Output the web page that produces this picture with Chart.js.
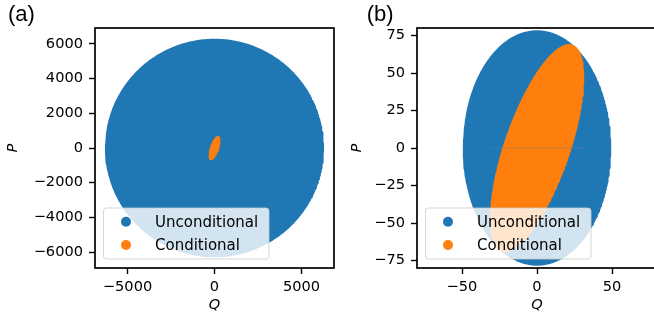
<!DOCTYPE html>
<html><head><meta charset="utf-8">
<script src="https://cdn.jsdelivr.net/npm/chart.js@4.4.0/dist/chart.umd.min.js"></script>
<style>
html,body{margin:0;padding:0;width:654px;height:320px;overflow:hidden;background:#fff;}
#wa{position:absolute;left:0;top:0;width:340px;height:320px;}
#wb{position:absolute;left:330px;top:0;width:340px;height:320px;}
</style></head><body>
<div id="wa"><canvas id="ca"></canvas></div>
<div id="wb"><canvas id="cb"></canvas></div>
<script>
// ---- data ----
const seriesLabels = ['Unconditional', 'Conditional'];
// ellipse parameters: [Q half-extent, P half-extent, Q-P correlation]
const uncondA = [6300, 6300, 0];
const condA = [345, 705, 0.58];
const uncondB = [49.5, 78.5, 0];
const condB = [31.5, 69.3, 0.68];
const xTicksA = [-5000, 0, 5000];
const yTicksA = [-6000, -4000, -2000, 0, 2000, 4000, 6000];
const xTicksB = [-50, 0, 50];
const yTicksB = [-75, -50, -25, 0, 25, 50, 75];
const limitsA = [-6870, 6870, -6920, 6920];
const limitsB = [-80, 80, -80, 80];
const zeroLineB = [[-31, 0], [30.5, 0]];
const panelLabels = ['(a)', '(b)'];

// ---- styles ----
const BLUE = '#1f77b4', ORANGE = '#ff7f0e';
const seriesColors = [BLUE, ORANGE];
const FONT = 'DejaVu Sans';
const FS = 14.6;
const LFS = 15;

function outline(e) {
  const [sx, sy, r] = e, n = 360, pts = [];
  const k = Math.sqrt(1 - r * r);
  for (let i = 0; i <= n; i++) {
    const t = 2 * Math.PI * i / n;
    pts.push({x: sx * Math.cos(t), y: sy * (r * Math.cos(t) + k * Math.sin(t))});
  }
  return pts;
}

function axis(min, max, ticks, title, isY, titlePad, fitSize) {
  return {
    type: 'linear', min, max,
    afterBuildTicks: s => { s.ticks = ticks.map(v => ({value: v})); },
    afterFit: s => { if (isY) s.width = fitSize; else s.height = fitSize; },
    ticks: {
      color: '#000', font: {family: FONT, size: FS}, padding: isY ? 6 : 4,
      maxRotation: 0, autoSkip: false,
      callback: v => (v < 0 ? '\u2212' : '') + Math.abs(v)
    },
    grid: {drawOnChartArea: false, drawTicks: true, tickLength: 6, tickColor: '#000', tickWidth: 1.4, color: '#000'},
    border: {display: false},
    title: {
      display: true, text: title, color: '#000',
      font: {family: FONT, size: FS, style: 'italic'},
      padding: isY ? {top: titlePad, bottom: 0} : {top: 0, bottom: titlePad}
    }
  };
}

const decor = {
  id: 'decor',
  afterDatasetsDraw(chart) {
    const {ctx, chartArea: a} = chart;
    const W = 165.5, H = 51, L = a.left + 8.5, T = a.bottom - 9 - H, R = 3;
    ctx.save();
    ctx.beginPath();
    ctx.moveTo(L + R, T); ctx.lineTo(L + W - R, T); ctx.arcTo(L + W, T, L + W, T + R, R);
    ctx.lineTo(L + W, T + H - R); ctx.arcTo(L + W, T + H, L + W - R, T + H, R);
    ctx.lineTo(L + R, T + H); ctx.arcTo(L, T + H, L, T + H - R, R);
    ctx.lineTo(L, T + R); ctx.arcTo(L, T, L + R, T, R); ctx.closePath();
    ctx.fillStyle = 'rgba(255,255,255,0.8)'; ctx.fill();
    ctx.strokeStyle = 'rgba(204,204,204,0.8)'; ctx.lineWidth = 1; ctx.stroke();
    const rows = [T + 13.7, T + 37];
    seriesLabels.forEach((lab, i) => {
      const y = rows[i];
      ctx.beginPath(); ctx.arc(L + 22.5, y, 5, 0, 2 * Math.PI);
      ctx.fillStyle = seriesColors[i]; ctx.fill();
      ctx.fillStyle = '#000'; ctx.font = LFS + 'px "' + FONT + '"';
      ctx.textBaseline = 'alphabetic'; ctx.textAlign = 'left';
      ctx.fillText(lab, L + 51.5, y + 5.2);
    });
    ctx.restore();
  },
  afterDraw(chart, args, opts) {
    const {ctx, chartArea: a} = chart;
    ctx.save();
    ctx.strokeStyle = '#000'; ctx.lineWidth = 1.7;
    ctx.strokeRect(a.left, a.top, a.right - a.left, a.bottom - a.top);
    ctx.fillStyle = '#000'; ctx.font = '22px "Liberation Sans"';
    ctx.textBaseline = 'alphabetic'; ctx.textAlign = 'left';
    ctx.fillText(opts.label, opts.x, 21);
    ctx.restore();
  }
};

function ellipseSet(label, pts, color, order) {
  return {label, data: pts, showLine: true, fill: 'shape', backgroundColor: color,
    borderColor: color, borderWidth: 0, pointRadius: 0, tension: 0, order};
}

function make(id, uncond, cond, xt, yt, lim, yTitlePad, yWidth, padRight, label, labelX, extra) {
  const ds = [
    ellipseSet(seriesLabels[1], outline(cond), ORANGE, 1),
    ellipseSet(seriesLabels[0], outline(uncond), BLUE, 2)
  ];
  if (extra) ds.unshift({label: '', data: extra.map(p => ({x: p[0], y: p[1]})), showLine: true,
    fill: false, borderColor: 'rgba(128,128,128,0.45)', borderWidth: 1.2, pointRadius: 0, order: 0});
  return new Chart(document.getElementById(id), {
    type: 'line',
    data: {datasets: ds},
    options: {
      responsive: true, maintainAspectRatio: false, animation: false, events: [],
      layout: {padding: {left: 0, top: 28, right: padRight, bottom: 0}},
      plugins: {legend: {display: false}, tooltip: {enabled: false}, decor: {label, x: labelX}},
      scales: {
        x: axis(lim[0], lim[1], xt, 'Q', false, 6.4, 52),
        y: axis(lim[2], lim[3], yt, 'P', true, yTitlePad, yWidth)
      }
    },
    plugins: [decor]
  });
}

make('ca', uncondA, condA, xTicksA, yTicksA, limitsA, 4.4, 95, 6, panelLabels[0], 8, null);
make('cb', uncondB, condB, xTicksB, yTicksB, limitsB, 18.9, 87, 13, panelLabels[1], 36.7, zeroLineB);
</script></body></html>
